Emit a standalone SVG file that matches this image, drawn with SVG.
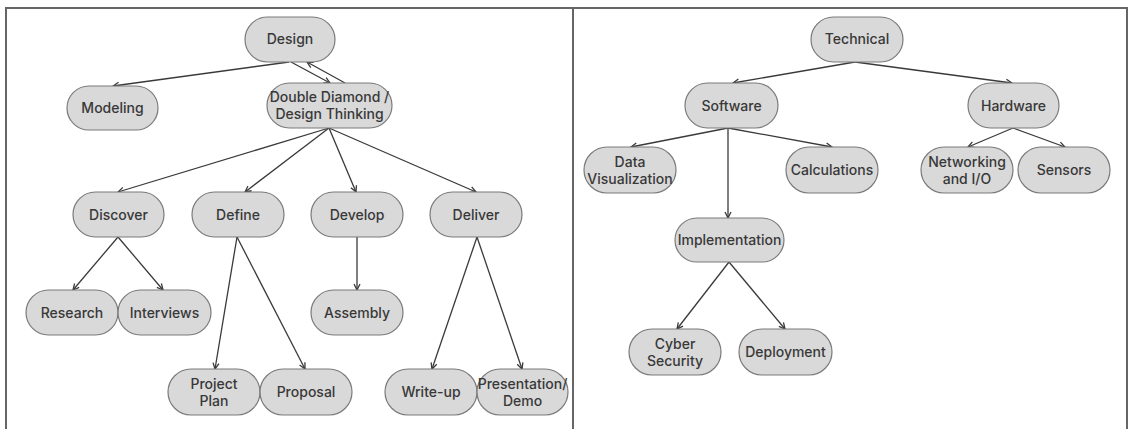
<svg xmlns="http://www.w3.org/2000/svg" width="1133" height="429" viewBox="0 0 1133 429">
<defs>
<style>
.n rect{fill:#d9d9d9;stroke:#7a7a7a;stroke-width:1.2}
.n text{font-family:Inter,"Liberation Sans",Arial,sans-serif;font-size:14px;font-weight:500;fill:#383838;text-anchor:middle}
.c line{stroke:#3a3a3a;stroke-width:1.3;marker-end:url(#a)}
.f{stroke:#666;stroke-width:2;fill:none}
</style>
<marker id="a" viewBox="0 0 8 8" refX="7" refY="4" markerWidth="8" markerHeight="8" markerUnits="userSpaceOnUse" orient="auto">
<path d="M1,1 L7,4 L1,7" fill="none" stroke="#3a3a3a" stroke-width="1.3"/>
</marker>
</defs>
<rect width="1133" height="429" fill="#fff"/>
<g id="frame">
<path class="f" d="M6,430 V8 H1127 V430 M573,8 V430"/>
</g>
<g id="connectors" class="c">
<line x1="289" y1="62" x2="113" y2="86"/>
<line x1="291" y1="62" x2="330" y2="83"/>
<line x1="345" y1="83" x2="307" y2="62"/>
<line x1="329" y1="128" x2="118" y2="192"/>
<line x1="329" y1="128" x2="245" y2="192"/>
<line x1="329" y1="128" x2="356" y2="192"/>
<line x1="329" y1="128" x2="476" y2="192"/>
<line x1="118" y1="237" x2="73" y2="290"/>
<line x1="118" y1="237" x2="163" y2="290"/>
<line x1="237" y1="237" x2="215" y2="369"/>
<line x1="237" y1="237" x2="305" y2="369"/>
<line x1="357" y1="237" x2="357" y2="290"/>
<line x1="477" y1="237" x2="432" y2="369"/>
<line x1="477" y1="237" x2="522" y2="369"/>
<line x1="855" y1="62" x2="733" y2="83"/>
<line x1="855" y1="62" x2="1012" y2="83"/>
<line x1="728" y1="128" x2="631" y2="147"/>
<line x1="728" y1="128" x2="832" y2="147"/>
<line x1="728" y1="128" x2="728" y2="218"/>
<line x1="1013" y1="128" x2="968" y2="147"/>
<line x1="1013" y1="128" x2="1065" y2="147"/>
<line x1="729" y1="262" x2="677" y2="329"/>
<line x1="729" y1="262" x2="785" y2="329"/>
</g>
<g id="design" class="n"><rect x="245" y="17" width="90" height="45" rx="22.5"/><text x="290" y="44">Design</text></g>
<g id="modeling" class="n"><rect x="67" y="86" width="91" height="44" rx="22"/><text x="112.5" y="113">Modeling</text></g>
<g id="double-diamond" class="n"><rect x="267" y="83" width="125" height="45" rx="22.5"/><text x="329.5" y="102">Double Diamond /</text><text x="329.5" y="118.5">Design Thinking</text></g>
<g id="discover" class="n"><rect x="73" y="192" width="91" height="45" rx="22.5"/><text x="118.5" y="219.5">Discover</text></g>
<g id="define" class="n"><rect x="192" y="192" width="92" height="45" rx="22.5"/><text x="238" y="219.5">Define</text></g>
<g id="develop" class="n"><rect x="311" y="192" width="92" height="45" rx="22.5"/><text x="357" y="219.5">Develop</text></g>
<g id="deliver" class="n"><rect x="430" y="192" width="92" height="45" rx="22.5"/><text x="476" y="219.5">Deliver</text></g>
<g id="research" class="n"><rect x="26" y="290" width="92" height="45" rx="22.5"/><text x="72" y="317.5">Research</text></g>
<g id="interviews" class="n"><rect x="118" y="290" width="93" height="45" rx="22.5"/><text x="164.5" y="317.5">Interviews</text></g>
<g id="assembly" class="n"><rect x="311" y="290" width="92" height="45" rx="22.5"/><text x="357" y="317.5">Assembly</text></g>
<g id="project-plan" class="n"><rect x="168" y="369" width="92" height="46" rx="23"/><text x="214" y="389">Project</text><text x="214" y="405.5">Plan</text></g>
<g id="proposal" class="n"><rect x="260" y="369" width="92" height="46" rx="23"/><text x="306" y="397">Proposal</text></g>
<g id="write-up" class="n"><rect x="385" y="369" width="92" height="46" rx="23"/><text x="431" y="397">Write-up</text></g>
<g id="presentation" class="n"><rect x="477" y="369" width="91" height="46" rx="23"/><text x="522.5" y="389">Presentation/</text><text x="522.5" y="405.5">Demo</text></g>
<g id="technical" class="n"><rect x="811" y="17" width="92" height="45" rx="22.5"/><text x="857" y="44">Technical</text></g>
<g id="software" class="n"><rect x="685" y="83" width="93" height="45" rx="22.5"/><text x="731.5" y="110.5">Software</text></g>
<g id="hardware" class="n"><rect x="968" y="83" width="91" height="45" rx="22.5"/><text x="1013.5" y="110.5">Hardware</text></g>
<g id="data-visualization" class="n"><rect x="584" y="147" width="92" height="46" rx="23"/><text x="630" y="167">Data</text><text x="630" y="183.5">Visualization</text></g>
<g id="calculations" class="n"><rect x="786" y="147" width="92" height="46" rx="23"/><text x="832" y="175">Calculations</text></g>
<g id="networking" class="n"><rect x="921" y="147" width="92" height="46" rx="23"/><text x="967" y="167">Networking</text><text x="967" y="183.5">and I/O</text></g>
<g id="sensors" class="n"><rect x="1018" y="147" width="92" height="46" rx="23"/><text x="1064" y="175">Sensors</text></g>
<g id="implementation" class="n"><rect x="675" y="218" width="109" height="44" rx="22"/><text x="729.5" y="245">Implementation</text></g>
<g id="cyber-security" class="n"><rect x="629" y="329" width="92" height="46" rx="23"/><text x="675" y="349">Cyber</text><text x="675" y="365.5">Security</text></g>
<g id="deployment" class="n"><rect x="739" y="329" width="93" height="46" rx="23"/><text x="785.5" y="357">Deployment</text></g>
</svg>
